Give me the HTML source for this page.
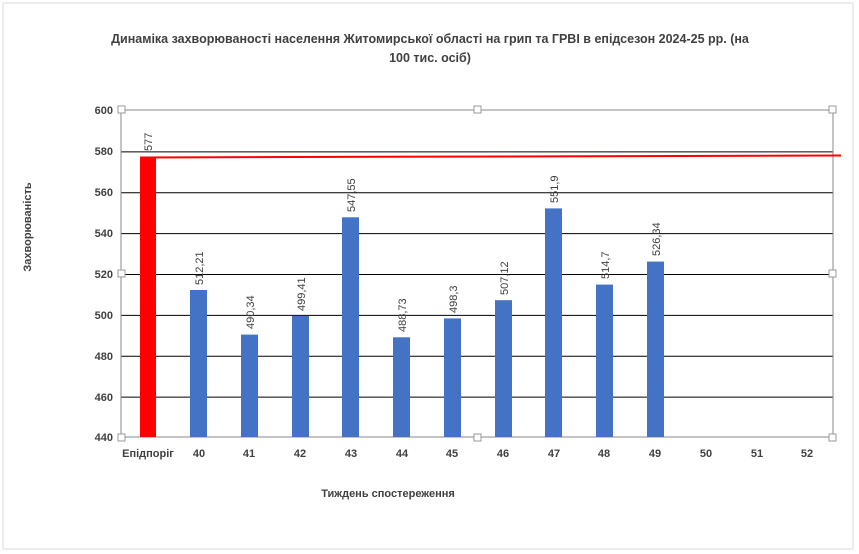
<!DOCTYPE html>
<html><head><meta charset="utf-8"><style>body{margin:0;background:#fff}svg{display:block}text{font-family:"Liberation Sans",sans-serif;font-weight:bold;fill:#404040}</style></head><body>
<svg width="859" height="554" viewBox="0 0 859 554">
<rect x="0" y="0" width="859" height="554" fill="#fff"/>
<rect x="3" y="3" width="850" height="546" fill="none" stroke="#d9d9d9"/>
<text x="430" y="43" font-size="12.5" text-anchor="middle">Динаміка захворюваності населення Житомирської області на грип та ГРВІ в епідсезон 2024-25 рр.  (на</text>
<text x="430" y="62" font-size="12.5" text-anchor="middle">100 тис. осіб)</text>
<g stroke="#000" stroke-width="1">
<line x1="121" y1="151.9" x2="833" y2="151.9"/><line x1="121" y1="192.8" x2="833" y2="192.8"/><line x1="121" y1="233.6" x2="833" y2="233.6"/><line x1="121" y1="274.5" x2="833" y2="274.5"/><line x1="121" y1="315.4" x2="833" y2="315.4"/><line x1="121" y1="356.3" x2="833" y2="356.3"/><line x1="121" y1="397.1" x2="833" y2="397.1"/>
</g>
<rect x="121" y="110" width="712" height="327" fill="none" stroke="#888"/>
<g font-size="11" text-anchor="end">
<text x="113" y="114">600</text><text x="113" y="155">580</text><text x="113" y="196">560</text><text x="113" y="237">540</text><text x="113" y="278">520</text><text x="113" y="319">500</text><text x="113" y="360">480</text><text x="113" y="401">460</text><text x="113" y="441">440</text>
</g>
<rect x="140" y="157" width="16" height="280" fill="#ff0000"/>
<line x1="140" y1="157.5" x2="841" y2="155.5" stroke="#ff0000" stroke-width="2"/>
<g fill="#4472c4">
<rect x="190" y="290" width="17" height="147"/>
<rect x="241" y="334.6" width="17" height="102.4"/>
<rect x="292" y="316" width="17" height="121"/>
<rect x="342" y="217.3" width="17" height="219.7"/>
<rect x="393" y="337.3" width="17" height="99.7"/>
<rect x="444" y="318.4" width="17" height="118.6"/>
<rect x="495" y="300.2" width="17" height="136.8"/>
<rect x="545" y="208.4" width="17" height="228.6"/>
<rect x="596" y="284.6" width="17" height="152.4"/>
<rect x="647" y="261.6" width="17" height="175.4"/>
</g>
<g font-size="11" font-weight="normal" style="font-weight:normal">
<text transform="translate(152,151) rotate(-90)" style="font-weight:normal">577</text>
<text transform="translate(203,285) rotate(-90)" style="font-weight:normal">512,21</text>
<text transform="translate(254,329) rotate(-90)" style="font-weight:normal">490,34</text>
<text transform="translate(305,311) rotate(-90)" style="font-weight:normal">499,41</text>
<text transform="translate(355,212) rotate(-90)" style="font-weight:normal">547,55</text>
<text transform="translate(406,332) rotate(-90)" style="font-weight:normal">488,73</text>
<text transform="translate(457,313) rotate(-90)" style="font-weight:normal">498,3</text>
<text transform="translate(508,295) rotate(-90)" style="font-weight:normal">507,12</text>
<text transform="translate(558,203) rotate(-90)" style="font-weight:normal">551,9</text>
<text transform="translate(609,279) rotate(-90)" style="font-weight:normal">514,7</text>
<text transform="translate(660,256) rotate(-90)" style="font-weight:normal">526,34</text>
</g>
<g font-size="11" text-anchor="middle">
<text x="148" y="457">Епідпоріг</text><text x="199" y="457">40</text><text x="249" y="457">41</text><text x="300" y="457">42</text><text x="351" y="457">43</text><text x="402" y="457">44</text><text x="452" y="457">45</text><text x="503" y="457">46</text><text x="554" y="457">47</text><text x="604" y="457">48</text><text x="655" y="457">49</text><text x="706" y="457">50</text><text x="757" y="457">51</text><text x="807" y="457">52</text>
</g>
<text x="388" y="497" font-size="11" text-anchor="middle">Тиждень спостереження</text>
<text transform="translate(31,227) rotate(-90)" font-size="11" text-anchor="middle">Захворюваність</text>
<g fill="#fff" stroke="#999">
<rect x="118" y="106" width="7" height="7"/><rect x="474" y="106" width="7" height="7"/><rect x="829" y="106" width="7" height="7"/>
<rect x="118" y="270" width="7" height="7"/><rect x="829" y="270" width="7" height="7"/>
<rect x="118" y="434" width="7" height="7"/><rect x="474" y="434" width="7" height="7"/><rect x="829" y="434" width="7" height="7"/>
</g>
</svg>
</body></html>
